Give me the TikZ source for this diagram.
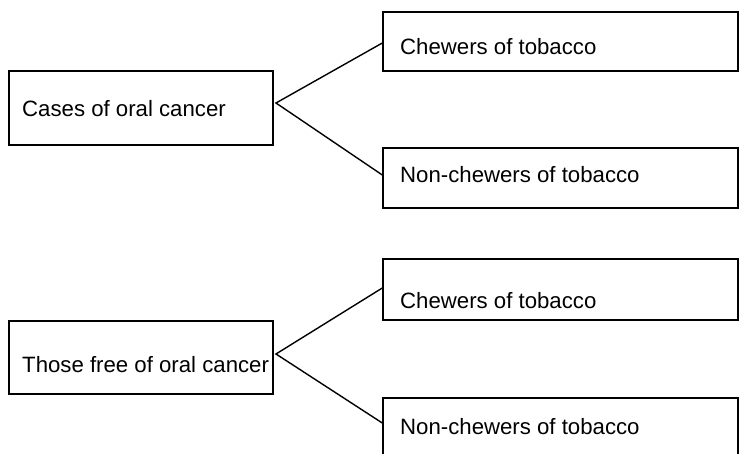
\documentclass[tikz,border=0pt]{standalone}
\usepackage{fontspec}
\setmainfont{Liberation Sans}
\begin{document}
\begin{tikzpicture}[x=1pt,y=-1pt,
  box/.style={draw=black,line width=1.4pt,rectangle,inner sep=0pt},
  txt/.style={anchor=base west,inner sep=0pt,font=\fontsize{22.2}{26}\selectfont},
  conn/.style={line width=1.4pt,line join=miter}]
\useasboundingbox (0,0) rectangle (741,454);
\clip (0,0) rectangle (741,454);
% boxes
\node[box,minimum width=264pt,minimum height=74pt] (a) at (141,108) {};
\node[txt] (ta) at (22,117) {Cases of oral cancer};

\node[box,minimum width=355pt,minimum height=59pt] (b1) at (560.5,41.5) {};
\node[txt] (tb1) at (400,55) {Chewers of tobacco};

\node[box,minimum width=355pt,minimum height=60pt] (b2) at (560.5,178) {};
\node[txt] (tb2) at (400,183) {Non-chewers of tobacco};

\node[box,minimum width=264pt,minimum height=73pt] (c) at (141,357.5) {};
\node[txt] (tc) at (22,372) {Those free of oral cancer};

\node[box,minimum width=355pt,minimum height=61pt] (c1) at (560.5,289.5) {};
\node[txt] (tc1) at (400,308) {Chewers of tobacco};

\node[box,minimum width=355pt,minimum height=72pt] (c2) at (560.5,434) {};
\node[txt] (tc2) at (400,434) {Non-chewers of tobacco};

% connectors
\coordinate (ja) at (276,103);
\coordinate (jc) at (276,354);
\draw[conn] ([yshift=-1.5pt]b1.west) -- (ja) -- ([yshift=3pt]b2.west);
\draw[conn] ([yshift=1.5pt]c1.west) -- (jc) -- ([yshift=11pt]c2.west);
\end{tikzpicture}
\end{document}
